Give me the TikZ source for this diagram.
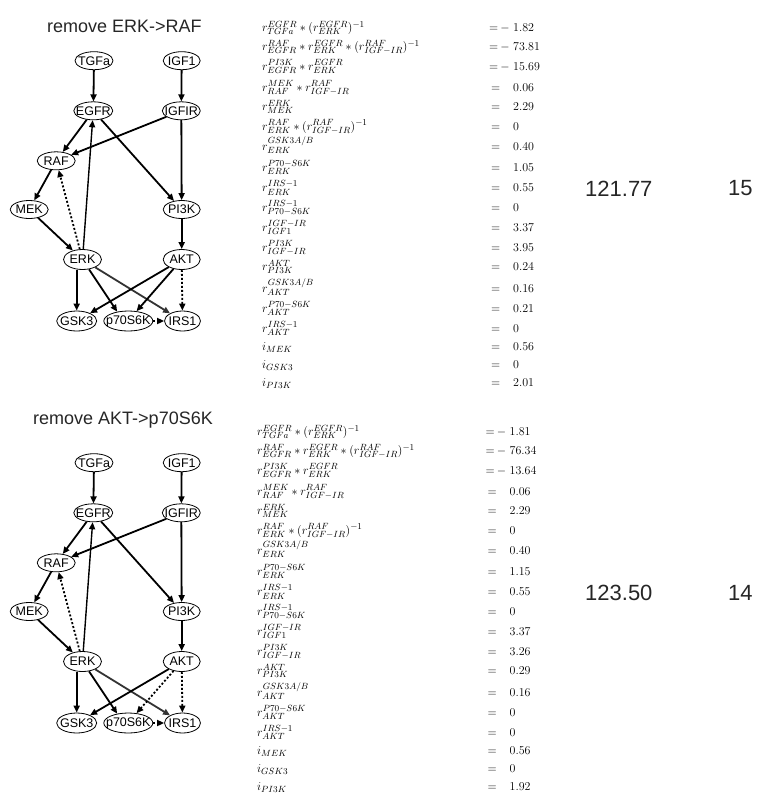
\documentclass[tikz,border=0pt]{standalone}
\usepackage[no-math]{fontspec}
\newfontfamily\lsans{Liberation Sans}
\usetikzlibrary{arrows.meta,shapes.geometric}
\DeclareMathSizes{12}{12}{9.5}{7.5}
\newcommand\gnet[3]{%
\begin{scope}[yshift=-#2pt]
\node[ell,minimum width=38pt] (#1TGFa) at (94,60.7) {};
\node[lbl] (#1TGFa-t) at (#1TGFa) {TGFa};
\node[ell,minimum width=37pt] (#1IGF1) at (181.7,60.7) {};
\node[lbl] (#1IGF1-t) at (#1IGF1) {IGF1};
\node[ell,minimum width=39pt] (#1EGFR) at (93.3,110.8) {};
\node[lbl] (#1EGFR-t) at (#1EGFR) {EGFR};
\node[ell,minimum width=38pt] (#1IGFIR) at (181.3,110.8) {};
\node[lbl] (#1IGFIR-t) at (#1IGFIR) {IGFIR};
\node[ell,minimum width=38pt] (#1RAF) at (56.2,160.8) {};
\node[lbl] (#1RAF-t) at (#1RAF) {RAF};
\node[ell,minimum width=38pt] (#1MEK) at (29.2,209.5) {};
\node[lbl] (#1MEK-t) at (#1MEK) {MEK};
\node[ell,minimum width=37pt] (#1PI3K) at (181.7,209.5) {};
\node[lbl] (#1PI3K-t) at (#1PI3K) {PI3K};
\node[ell,minimum width=38pt,minimum height=20pt] (#1ERK) at (82.5,259.5) {};
\node[lbl] (#1ERK-t) at (#1ERK) {ERK};
\node[ell,minimum width=37pt,minimum height=20pt] (#1AKT) at (181.7,259.5) {};
\node[lbl] (#1AKT-t) at (#1AKT) {AKT};
\node[ell,minimum width=40pt,minimum height=20pt] (#1GSK3) at (76.7,321) {};
\node[lbl] (#1GSK3-t) at (#1GSK3) {GSK3};
\node[ell,minimum width=49pt,minimum height=20pt] (#1p70) at (128.3,321) {};
\node[lbl] (#1p70-t) at (#1p70) {p70S6K};
\node[ell,minimum width=36pt,minimum height=20pt] (#1IRS1) at (182.5,321) {};
\node[lbl] (#1IRS1-t) at (#1IRS1) {IRS1};
\draw[ed] (#1TGFa) -- (#1EGFR);
\draw[ed] (#1IGF1) -- (#1IGFIR);
\draw[ed] (#1EGFR) -- (#1RAF);
\draw[ed] (#1EGFR) -- (#1PI3K);
\draw[ed] (#1IGFIR) -- (#1RAF);
\draw[ed] (#1IGFIR) -- (#1PI3K);
\draw[ed] (#1RAF) -- (#1MEK);
\draw[ed] (#1MEK) -- (#1ERK);
\draw[ed,line width=1.4pt] (#1ERK) -- (#1EGFR);
\draw[dt] (#1ERK) -- (#1RAF);
\draw[ed] (#1PI3K) -- (#1AKT);
\draw[ed] (#1ERK.south -| #1GSK3.north) -- (#1GSK3);
\draw[ed] (#1ERK) -- (#1p70.140);
\draw[ed,draw=black!80] (#1ERK) -- (#1IRS1);
\draw[ed] (#1AKT) -- (#1GSK3);
\draw[#3] (#1AKT) -- (#1p70.50);
\draw[dt] (#1AKT) -- (#1IRS1);
\draw[dt] (#1p70) -- (#1IRS1);
\end{scope}}
\begin{document}
\begin{tikzpicture}[x=1pt,y=-1pt,
 ell/.style={ellipse,draw,line width=0.8pt,inner sep=0pt,minimum height=18pt},
 lbl/.style={inner sep=0pt,font=\lsans\fontsize{12.5}{12.5}\selectfont},
 ed/.style={line width=1.8pt,-{Triangle[length=7pt,width=6pt]}},
 dt/.style={ed,dash pattern=on 2pt off 2pt},
 eq/.style={inner sep=0pt,font=\fontsize{12}{14}\selectfont},
 ttl/.style={font=\lsans\fontsize{18}{20}\selectfont,text=black!85},
 big/.style={font=\lsans\fontsize{22}{24}\selectfont,text=black!85,anchor=west,inner sep=0pt}]
\useasboundingbox (0,0) rectangle (756,796);
% titles
\node[ttl] (t-title) at (124.5,26.5) {remove ERK->RAF};
\node[ttl] (b-title) at (123,420) {remove AKT->p70S6K};
% graphs
\gnet{t}{0}{ed}
\gnet{b}{402}{dt}
% top equations
\foreach \y/\ex/\eo/\mi/\v [count=\i] in {
 28.5/{r^{EGFR}_{TGFa}*(r^{EGFR}_{ERK})^{-1}}/14.5/-/1.82,
 47.5/{r^{RAF}_{EGFR}*r^{EGFR}_{ERK}*(r^{RAF}_{IGF-IR})^{-1}}/14.5/-/73.81,
 67/{r^{PI3K}_{EGFR}*r^{EGFR}_{ERK}}/14.5/-/15.69,
 88/{r^{MEK}_{RAF}*r^{RAF}_{IGF-IR}}/12.5//0.06,
 107.5/{r^{ERK}_{MEK}}/12.5//2.29,
 127/{r^{RAF}_{ERK}*(r^{RAF}_{IGF-IR})^{-1}}/12.5//0,
 147/{r^{GSK3A/B}_{ERK}}/12.5//0.40,
 168/{r^{P70-S6K}_{ERK}}/12.5//1.05,
 188.5/{r^{IRS-1}_{ERK}}/12.5//0.55,
 208/{r^{IRS-1}_{P70-S6K}}/12.5//0,
 228/{r^{IGF-IR}_{IGF1}}/12.5//3.37,
 248/{r^{PI3K}_{IGF-IR}}/12.5//3.95,
 267.5/{r^{AKT}_{PI3K}}/12.5//0.24,
 289/{r^{GSK3A/B}_{AKT}}/12.5//0.16,
 309/{r^{P70-S6K}_{AKT}}/12.5//0.21,
 329/{r^{IRS-1}_{AKT}}/12.5//0,
 347.5/{i_{MEK}}/12.5//0.56,
 365.5/{i_{GSK3}}/12.5//0,
 383.5/{i_{PI3K}}/12.5//2.01}{
 \node[eq,anchor=base west] (tl\i) at (262,\y+3) {$\ex$};
 \node[eq,anchor=base east] (te\i) at (513-\eo,\y+3) {$=$};
 \node[eq,anchor=base east] (tm\i) at (510,\y+3) {$\mi$};
 \node[eq,anchor=base west] (tv\i) at (513,\y+3) {$\v$};
}
% bottom equations
\foreach \y/\ex/\eo/\mi/\v [count=\i] in {
 28.5/{r^{EGFR}_{TGFa}*(r^{EGFR}_{ERK})^{-1}}/14.5/-/1.81,
 47.5/{r^{RAF}_{EGFR}*r^{EGFR}_{ERK}*(r^{RAF}_{IGF-IR})^{-1}}/14.5/-/76.34,
 67/{r^{PI3K}_{EGFR}*r^{EGFR}_{ERK}}/14.5/-/13.64,
 88/{r^{MEK}_{RAF}*r^{RAF}_{IGF-IR}}/12.5//0.06,
 107.5/{r^{ERK}_{MEK}}/12.5//2.29,
 127/{r^{RAF}_{ERK}*(r^{RAF}_{IGF-IR})^{-1}}/12.5//0,
 147/{r^{GSK3A/B}_{ERK}}/12.5//0.40,
 168/{r^{P70-S6K}_{ERK}}/12.5//1.15,
 188.5/{r^{IRS-1}_{ERK}}/12.5//0.55,
 208/{r^{IRS-1}_{P70-S6K}}/12.5//0,
 228/{r^{IGF-IR}_{IGF1}}/12.5//3.37,
 248/{r^{PI3K}_{IGF-IR}}/12.5//3.26,
 267.5/{r^{AKT}_{PI3K}}/12.5//0.29,
 289/{r^{GSK3A/B}_{AKT}}/12.5//0.16,
 309/{r^{P70-S6K}_{AKT}}/12.5//0,
 329/{r^{IRS-1}_{AKT}}/12.5//0,
 347.5/{i_{MEK}}/12.5//0.56,
 365.5/{i_{GSK3}}/12.5//0,
 383.5/{i_{PI3K}}/12.5//1.92}{
 \node[eq,anchor=base west] (bl\i) at (257,\y+407) {$\ex$};
 \node[eq,anchor=base east] (be\i) at (509.5-\eo,\y+407) {$=$};
 \node[eq,anchor=base east] (bm\i) at (506.5,\y+407) {$\mi$};
 \node[eq,anchor=base west] (bv\i) at (509.5,\y+407) {$\v$};
}
% scores
\node[big] (t-n1) at (585,188.5) {121.77};
\node[big] (t-n2) at (728,188.5) {15};
\node[big] (b-n1) at (585,592.5) {123.50};
\node[big] (b-n2) at (728,592.5) {14};
\end{tikzpicture}
\end{document}
